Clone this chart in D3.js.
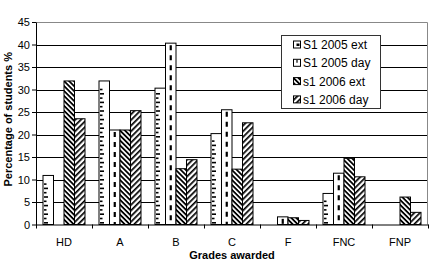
<!DOCTYPE html>
<html>
<head>
<meta charset="utf-8">
<script src="https://cdn.jsdelivr.net/npm/d3@7"></script>
<style>
  body { margin: 0; background: #fff; }
  text { font-family: "Liberation Sans", Arial, sans-serif; }
</style>
</head>
<body>
<svg id="chart" width="432" height="260"></svg>
<script>
// Data
var grades = ['HD', 'A', 'B', 'C', 'F', 'FNC', 'FNP'];
var seriesNames = ['S1 2005 ext', 'S1 2005 day', 's1 2006 ext', 's1 2006 day'];
var ext2005 = [10.9, 31.9, 30.3, 20.2, 0, 6.9, 0];
var day2005 = [0, 21.0, 40.3, 25.5, 1.7, 11.4, 0];
var ext2006 = [31.9, 21.0, 12.4, 12.3, 1.5, 14.7, 6.1];
var day2006 = [23.5, 25.3, 14.4, 22.6, 0.9, 10.6, 2.7];
var yTicks = [0, 5, 10, 15, 20, 25, 30, 35, 40, 45];

var seriesValues = [ext2005, day2005, ext2006, day2006];
var patternIds = ['p-ext05', 'p-day05', 'p-ext06', 'p-day06'];

var svg = d3.select('#chart');
var margin = { top: 22, right: 4, bottom: 35, left: 36 };
var width = 432 - margin.left - margin.right;
var height = 260 - margin.top - margin.bottom - 0.5;

// Patterns
var defs = svg.append('defs');

// dense back diagonal "\\\"
var p3 = defs.append('pattern').attr('id', patternIds[2])
    .attr('patternUnits', 'userSpaceOnUse').attr('width', 3.5).attr('height', 3.5)
    .attr('patternTransform', 'rotate(45)');
p3.append('rect').attr('width', 3.5).attr('height', 3.5).attr('fill', '#fff');
p3.append('rect').attr('width', 3.5).attr('height', 1.8).attr('fill', '#000');

// forward diagonal "///"
var p4 = defs.append('pattern').attr('id', patternIds[3])
    .attr('patternUnits', 'userSpaceOnUse').attr('width', 4).attr('height', 4)
    .attr('patternTransform', 'rotate(-45)');
p4.append('rect').attr('width', 4).attr('height', 4).attr('fill', '#fff');
p4.append('rect').attr('width', 4).attr('height', 1.7).attr('fill', '#000');

var g = svg.append('g')
    .attr('transform', 'translate(' + margin.left + ',' + margin.top + ')');

var x0 = d3.scaleBand().domain(grades).range([0, width]).padding(0);
var x1 = d3.scaleBand().domain(seriesNames).range([7, x0.bandwidth() - 7]).padding(0);
var y = d3.scaleLinear().domain([0, 45]).range([height, 0]);

// gridlines
g.selectAll('.grid')
    .data(yTicks.filter(function(d) { return d > 0 && d < 45; }))
  .enter().append('line')
    .attr('x1', 0).attr('x2', width)
    .attr('y1', function(d) { return Math.round(y(d)) + 0.5; })
    .attr('y2', function(d) { return Math.round(y(d)) + 0.5; })
    .attr('stroke', '#000').attr('stroke-width', 1);

// top and right border of plot area
g.append('path')
    .attr('d', 'M0,0.5H' + (width - 0.5) + 'V' + height)
    .attr('fill', 'none').attr('stroke', '#888').attr('stroke-width', 1);

// bars
var groups = g.selectAll('.grade')
    .data(grades)
  .enter().append('g')
    .attr('transform', function(d) { return 'translate(' + x0(d) + ',0)'; });

groups.selectAll('.bar')
    .data(function(d, i) {
        return seriesNames.map(function(s, j) { return { s: s, j: j, v: seriesValues[j][i] }; })
            .filter(function(e) { return e.v > 0; });
    })
  .enter().append('g')
    .each(function(d) {
        var bx = x1(d.s), bw = x1.bandwidth(), by = y(d.v), bh = height - y(d.v);
        var sel = d3.select(this);
        var fill = d.j >= 2 ? 'url(#' + patternIds[d.j] + ')' : '#fff';
        sel.append('rect')
            .attr('x', bx).attr('y', by).attr('width', bw).attr('height', bh)
            .attr('fill', fill);
        if (d.j === 0) {
            // ruler dashes along the left edge of the bar
            var n = Math.floor((bh - 2) / 4.3);
            for (var k = 0; k < n; k++) {
                sel.append('rect')
                    .attr('x', bx + 1).attr('y', height - 2.5 - k * 4.3)
                    .attr('width', k % 2 === 0 ? 4 : 2.5).attr('height', 1.6)
                    .attr('fill', '#000');
            }
        }
        if (d.j === 1) {
            sel.append('line')
                .attr('x1', bx + bw / 2).attr('x2', bx + bw / 2)
                .attr('y1', by + 2).attr('y2', height)
                .attr('stroke', '#000').attr('stroke-width', 2.2)
                .attr('stroke-dasharray', '5,5');
        }
        sel.append('rect')
            .attr('x', bx).attr('y', by).attr('width', bw).attr('height', bh)
            .attr('fill', 'none').attr('stroke', '#000').attr('stroke-width', 1);
    });

// Y axis
var yAxis = g.append('g')
    .call(d3.axisLeft(y).tickValues(yTicks).tickSize(4).tickSizeOuter(0));
yAxis.select('.domain').attr('stroke', '#000');
yAxis.selectAll('text').attr('font-size', 11).attr('x', -6).attr('fill', '#000');

// X axis
var xAxis = g.append('g')
    .attr('transform', 'translate(0,' + height + ')')
    .call(d3.axisBottom(x0).tickSize(0).tickSizeOuter(0));
xAxis.select('.domain').attr('stroke', '#000');
xAxis.selectAll('text').attr('font-size', 11).attr('dy', '1.65em').attr('fill', '#000');
xAxis.selectAll('.boundary')
    .data(d3.range(grades.length + 1))
  .enter().append('line')
    .attr('x1', function(i) { return i * x0.bandwidth() + 0.5; })
    .attr('x2', function(i) { return i * x0.bandwidth() + 0.5; })
    .attr('y1', 0).attr('y2', 4).attr('stroke', '#000');

// Axis titles
svg.append('text')
    .attr('transform', 'translate(12,' + (margin.top + height / 2 - 4) + ') rotate(-90)')
    .attr('text-anchor', 'middle')
    .attr('font-size', 11).attr('font-weight', 'bold')
    .text('Percentage of students %');

svg.append('text')
    .attr('x', 232).attr('y', 259)
    .attr('text-anchor', 'middle')
    .attr('font-size', 11).attr('font-weight', 'bold')
    .text('Grades awarded');

// Legend
var legend = svg.append('g').attr('transform', 'translate(281,35)');
legend.append('rect')
    .attr('x', 0.5).attr('y', 0.5).attr('width', 99).attr('height', 73)
    .attr('fill', '#fff').attr('stroke', '#333');

var items = legend.selectAll('.item')
    .data(seriesNames)
  .enter().append('g')
    .attr('transform', function(d, i) { return 'translate(12,' + (9.5 + i * 18.3) + ')'; });

items.append('rect')
    .attr('x', 0.5).attr('y', -3.5).attr('width', 7).attr('height', 7)
    .attr('fill', function(d, i) { return i < 2 ? '#fff' : 'url(#' + patternIds[i] + ')'; })
    .attr('stroke', '#000');
items.filter(function(d, i) { return i === 0; }).append('rect')
    .attr('x', 3.5).attr('y', -1).attr('width', 3).attr('height', 2.5).attr('fill', '#000');
items.filter(function(d, i) { return i === 1; }).append('line')
    .attr('x1', 4).attr('x2', 4).attr('y1', -3).attr('y2', 0).attr('stroke', '#000').attr('stroke-width', 1.2);

items.append('text')
    .attr('x', 10).attr('y', 4.5)
    .attr('font-size', 12)
    .text(function(d) { return d; });
</script>
</body>
</html>
